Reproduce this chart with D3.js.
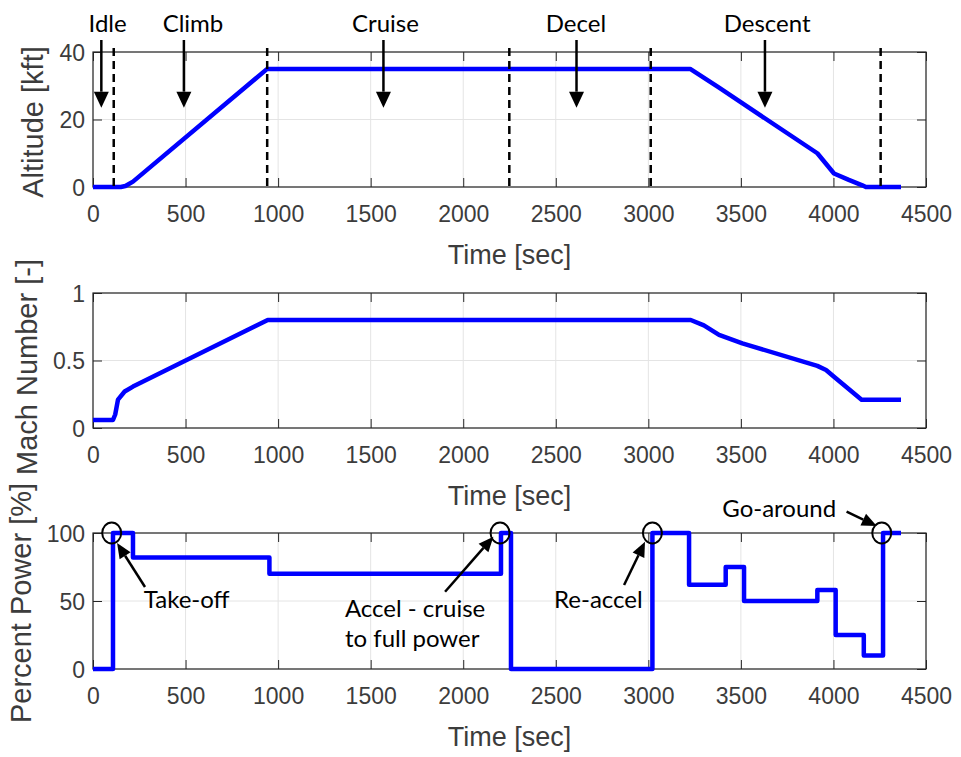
<!DOCTYPE html>
<html>
<head>
<meta charset="utf-8">
<script src="https://cdn.jsdelivr.net/npm/d3@7"></script>
<style>
  html, body { margin: 0; padding: 0; background: #ffffff; }
  svg { display: block; }
</style>
</head>
<body>
<script>
// ---------------- DATA ----------------
const timeTicks = [0, 500, 1000, 1500, 2000, 2500, 3000, 3500, 4000, 4500];

const altTime = [0, 150, 175, 216, 941, 3226, 3380, 3913, 4003, 4083, 4156, 4175, 4365];
const altitude = [0, 0, 0.3, 1.6, 35, 35, 29.5, 10, 4, 2.1, 0.5, 0, 0];
const altTicks = [0, 20, 40];

const machTime = [0, 108, 120, 135, 171, 216, 944, 3229, 3300, 3382, 3508, 3913, 3960, 4003, 4152, 4365];
const mach = [0.06, 0.06, 0.1, 0.21, 0.27, 0.307, 0.8, 0.8, 0.76, 0.69, 0.627, 0.46, 0.43, 0.38, 0.21, 0.21];
const machTicks = [0, 0.5, 1];

const powerTime = [0, 108, 216, 953, 2204, 2258, 3022, 3220, 3418, 3517, 3913, 4012, 4164, 4268, 4365];
const power = [0, 100, 82, 70, 100, 0, 100, 62, 75, 50, 58, 25, 10, 100, 100];
const powerTicks = [0, 50, 100];

// phase boundaries (dashed) and phase labels on altitude panel
const phaseBounds = [112, 941, 2249, 3013, 4255];
const phaseNames = ["Idle", "Climb", "Cruise", "Decel", "Descent"];
const phaseTextTime = [79, 540, 1580, 2609, 3642];
const phaseArrowTime = [45, 491, 1569, 2612, 3630];

// power panel callouts
const calloutNames = ["Take-off", "Accel - cruise|to full power", "Re-accel", "Go-around"];
const calloutCircleTime = [101, 2199, 3022, 4261];
const calloutTextTime = [506, 1361, 2730, 3707];
const calloutTextPower = [44.9, 38.5, 44.6, 112];
const calloutTextAnchor = ["middle", "start", "middle", "middle"];
const calloutTailTime = [281, 1902, 2869, 4071];
const calloutTailPower = [60.3, 56.8, 61.8, 115.7];
const calloutTipTime = [130, 2163, 2982, 4234];
const calloutTipPower = [92.6, 97.3, 93.6, 105.1];

// ---------------- LAYOUT ----------------
const W = 961, H = 757;
const svg = d3.select("body").append("svg").attr("width", W).attr("height", H);

const x = d3.scaleLinear().domain([0, 4500]).range([93, 926]);

const panels = [
  { t: altTime, v: altitude, dom: [0, 40], rng: [187, 52], ticks: altTicks, label: "Altitude [kft]", labX: 43, labY: 122, curve: d3.curveLinear },
  { t: machTime, v: mach, dom: [0, 1], rng: [428, 293], ticks: machTicks, label: "Mach Number [-]", labX: 37, labY: 367, curve: d3.curveLinear },
  { t: powerTime, v: power, dom: [0, 100], rng: [669, 533], ticks: powerTicks, label: "Percent Power [%]", labX: 31, labY: 603, curve: d3.curveStepAfter }
];

const axisColor = "#262626";
const textColor = "#3c3c3c";
const gridColor = "#e4e4e4";
const tickLen = 9;
const fontAxis = "'Liberation Sans', Arial, Helvetica, sans-serif";
const fontNote = "Lato, 'Open Sans', sans-serif";

panels.forEach(p => {
  const y = d3.scaleLinear().domain(p.dom).range(p.rng);
  p.y = y;
  const g = svg.append("g");
  const x0 = x.range()[0], x1 = x.range()[1];
  const yb = p.rng[0], yt = p.rng[1];

  // grid
  g.append("g").selectAll("line").data(timeTicks).join("line")
    .attr("x1", d => x(d)).attr("x2", d => x(d)).attr("y1", yb).attr("y2", yt)
    .attr("stroke", gridColor).attr("stroke-width", 1);
  g.append("g").selectAll("line").data(p.ticks).join("line")
    .attr("x1", x0).attr("x2", x1).attr("y1", d => y(d)).attr("y2", d => y(d))
    .attr("stroke", gridColor).attr("stroke-width", 1);

  // bottom axis (inward ticks)
  const ax = g.append("g").attr("transform", `translate(0,${yb})`)
    .call(d3.axisBottom(x).tickValues(timeTicks).tickSizeInner(-tickLen).tickSizeOuter(0).tickFormat(d3.format("d")));
  ax.select(".domain").remove();
  ax.selectAll(".tick line").attr("stroke", axisColor);
  ax.selectAll(".tick text").attr("y", 35).attr("dy", null)
    .attr("font-family", fontAxis).attr("font-size", 23).attr("fill", textColor);

  // top axis ticks
  const axT = g.append("g").attr("transform", `translate(0,${yt})`)
    .call(d3.axisTop(x).tickValues(timeTicks).tickSizeInner(-tickLen).tickSizeOuter(0).tickFormat(""));
  axT.select(".domain").remove();
  axT.selectAll(".tick line").attr("stroke", axisColor);

  // left axis
  const ay = g.append("g").attr("transform", `translate(${x0},0)`)
    .call(d3.axisLeft(y).tickValues(p.ticks).tickSizeInner(-tickLen).tickSizeOuter(0).tickFormat(d => String(d)));
  ay.select(".domain").remove();
  ay.selectAll(".tick line").attr("stroke", axisColor);
  ay.selectAll(".tick text").attr("x", -8).attr("dy", "0.36em")
    .attr("font-family", fontAxis).attr("font-size", 23).attr("fill", textColor);

  // right axis ticks
  const ayR = g.append("g").attr("transform", `translate(${x1},0)`)
    .call(d3.axisRight(y).tickValues(p.ticks).tickSizeInner(-tickLen).tickSizeOuter(0).tickFormat(""));
  ayR.select(".domain").remove();
  ayR.selectAll(".tick line").attr("stroke", axisColor);

  // box
  g.append("rect").attr("x", x0).attr("y", yt).attr("width", x1 - x0).attr("height", yb - yt)
    .attr("fill", "none").attr("stroke", axisColor).attr("stroke-width", 1.2);

  // x label
  g.append("text").attr("x", (x0 + x1) / 2).attr("y", yb + 77)
    .attr("text-anchor", "middle").attr("font-family", fontAxis).attr("font-size", 27)
    .attr("fill", textColor).text("Time [sec]");

  // y label
  g.append("text").attr("transform", `translate(${p.labX},${p.labY}) rotate(-90)`)
    .attr("text-anchor", "middle").attr("font-family", fontAxis).attr("font-size", 29)
    .attr("fill", textColor).text(p.label);
});

// ---------------- DATA LINES ----------------
const lineLayer = svg.append("g");
panels.forEach(p => {
  const pts = p.t.map((t, i) => [t, p.v[i]]);
  lineLayer.append("path").datum(pts)
    .attr("d", d3.line().x(d => x(d[0])).y(d => p.y(d[1])).curve(p.curve))
    .attr("fill", "none").attr("stroke", "#0000ff").attr("stroke-width", 4.5)
    .attr("stroke-linejoin", "round").attr("stroke-linecap", "butt");
});

// ---------------- ANNOTATIONS ----------------
function arrow(g, x1, y1, x2, y2, headLen, headW) {
  const ang = Math.atan2(y2 - y1, x2 - x1);
  const bx = x2 - headLen * Math.cos(ang), by = y2 - headLen * Math.sin(ang);
  g.append("line").attr("x1", x1).attr("y1", y1).attr("x2", bx).attr("y2", by)
    .attr("stroke", "#000").attr("stroke-width", 2.5);
  const px = -Math.sin(ang) * headW / 2, py = Math.cos(ang) * headW / 2;
  g.append("path").attr("d", `M${x2},${y2}L${bx + px},${by + py}L${bx - px},${by - py}Z`).attr("fill", "#000");
}

const ann = svg.append("g");
const yAlt = panels[0].y, yPow = panels[2].y;

// dashed phase boundaries
ann.selectAll("line.dash").data(phaseBounds).join("line")
  .attr("class", "dash")
  .attr("x1", d => x(d)).attr("x2", d => x(d))
  .attr("y1", yAlt(41.2)).attr("y2", yAlt(0))
  .attr("stroke", "#000").attr("stroke-width", 2.5).attr("stroke-dasharray", "8,5");

phaseNames.forEach((name, i) => {
  ann.append("text").attr("x", x(phaseTextTime[i])).attr("y", 32)
    .attr("text-anchor", "middle").attr("font-family", fontNote).attr("font-size", 24)
    .attr("fill", "#000").text(name);
  arrow(ann, x(phaseArrowTime[i]), 40, x(phaseArrowTime[i]), yAlt(23.5), 16, 15);
});

// callouts on power panel
calloutNames.forEach((name, i) => {
  ann.append("ellipse").attr("cx", x(calloutCircleTime[i])).attr("cy", yPow(100))
    .attr("rx", 9.5).attr("ry", 10.5).attr("fill", "none").attr("stroke", "#000").attr("stroke-width", 2);
  arrow(ann, x(calloutTailTime[i]), yPow(calloutTailPower[i]), x(calloutTipTime[i]), yPow(calloutTipPower[i]), 15, 13);
  const lines = name.split("|");
  const t = ann.append("text").attr("x", x(calloutTextTime[i])).attr("y", yPow(calloutTextPower[i]))
    .attr("text-anchor", calloutTextAnchor[i]).attr("font-family", fontNote).attr("font-size", 24).attr("fill", "#000");
  lines.forEach((ln, j) => {
    t.append("tspan").attr("x", x(calloutTextTime[i])).attr("dy", j === 0 ? 0 : 30).text(ln);
  });
});
</script>
</body>
</html>
